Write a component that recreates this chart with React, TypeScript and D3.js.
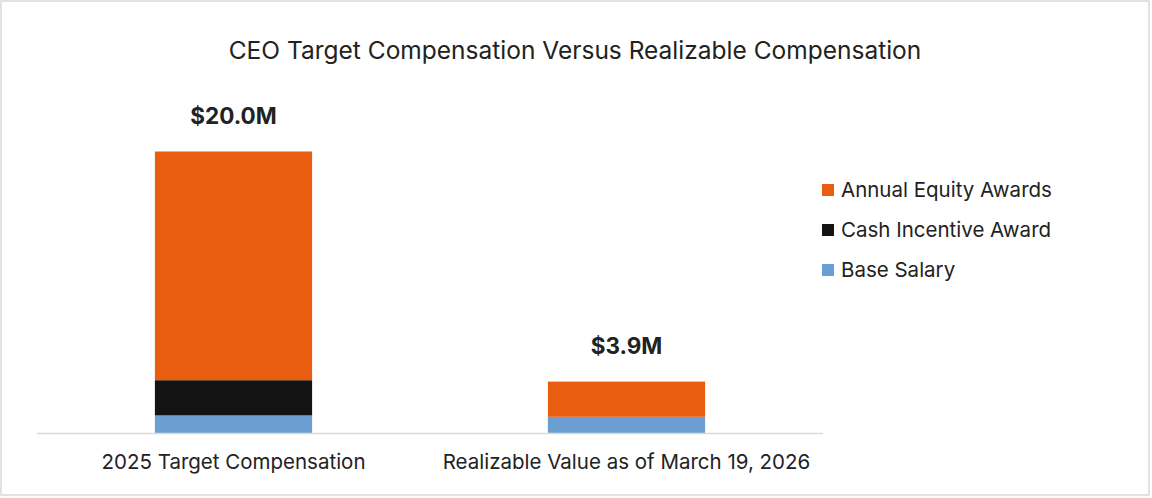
import * as d3 from "d3";
import { useRef, useEffect } from "react";

const categories = ["2025 Target Compensation", "Realizable Value as of March 19, 2026"];
const seriesNames = ["Base Salary", "Cash Incentive Award", "Annual Equity Awards"];
const baseSalary = [1.25, 1.15];
const cashIncentive = [2.5, 0];
const equityAwards = [16.25, 2.5];
const totalLabels = ["$20.0M", "$3.9M"];
const colors = ["#6b9fd1", "#141414", "#e85d10"];

export default function App() {
  const svgRef = useRef(null);

  useEffect(() => {
    document.body.style.margin = "0";
    const width = 1152;
    const height = 498;
    const font = "Inter, 'Open Sans', sans-serif";

    const svg = d3.select(svgRef.current).attr("width", width).attr("height", height);
    svg.selectAll("*").remove();

    svg
      .append("rect")
      .attr("x", 1)
      .attr("y", 1)
      .attr("width", 1148)
      .attr("height", 494)
      .attr("fill", "#fff")
      .attr("stroke", "#d9d9d9")
      .attr("stroke-width", 1.5);

    svg
      .append("text")
      .attr("x", 575)
      .attr("y", 59)
      .attr("text-anchor", "middle")
      .attr("font-family", font)
      .attr("font-size", 24.5)
      .attr("fill", "#222")
      .text("CEO Target Compensation Versus Realizable Compensation");

    const x = d3.scaleBand().domain(categories).range([37, 823]).paddingInner(0.6).paddingOuter(0.3);
    const y = d3.scaleLinear().domain([0, 20]).range([433, 151.5]);

    const rows = categories.map((c, i) => ({
      cat: c,
      "Base Salary": baseSalary[i],
      "Cash Incentive Award": cashIncentive[i],
      "Annual Equity Awards": equityAwards[i],
    }));
    const stack = d3.stack<any>().keys(seriesNames)(rows);

    const g = svg.append("g");
    stack.forEach((layer, li) => {
      g.selectAll(null)
        .data(layer)
        .enter()
        .append("rect")
        .attr("x", (d) => x(d.data.cat)!)
        .attr("width", x.bandwidth())
        .attr("y", (d) => y(d[1]))
        .attr("height", (d) => y(d[0]) - y(d[1]))
        .attr("fill", colors[li]);
    });

    // axis line
    svg
      .append("line")
      .attr("x1", 37)
      .attr("x2", 823)
      .attr("y1", 433.5)
      .attr("y2", 433.5)
      .attr("stroke", "#d9d9d9")
      .attr("stroke-width", 1.5);

    // totals
    const last = stack[stack.length - 1];
    svg
      .selectAll(null)
      .data(last)
      .enter()
      .append("text")
      .attr("x", (d) => x(d.data.cat)! + x.bandwidth() / 2)
      .attr("y", (d) => y(d[1]) - 28)
      .attr("text-anchor", "middle")
      .attr("font-family", font)
      .attr("font-size", 22.5)
      .attr("font-weight", "bold")
      .attr("fill", "#222")
      .text((_, i) => totalLabels[i]);

    // category labels
    svg
      .selectAll(null)
      .data(categories)
      .enter()
      .append("text")
      .attr("x", (d) => x(d)! + x.bandwidth() / 2)
      .attr("y", 469)
      .attr("text-anchor", "middle")
      .attr("font-family", font)
      .attr("font-size", 20.5)
      .attr("fill", "#222")
      .text((d) => d);

    // legend
    const legendItems = [...seriesNames].reverse();
    const legendColors = [...colors].reverse();
    const lg = svg
      .selectAll(null)
      .data(legendItems)
      .enter()
      .append("g")
      .attr("transform", (_, i) => `translate(822, ${190 + i * 40})`);
    lg.append("rect")
      .attr("x", 0)
      .attr("y", -6)
      .attr("width", 12)
      .attr("height", 12)
      .attr("fill", (_, i) => legendColors[i]);
    lg.append("text")
      .attr("x", 19)
      .attr("y", 7)
      .attr("font-family", font)
      .attr("font-size", 20.5)
      .attr("fill", "#222")
      .text((d) => d);
  }, []);

  return <svg ref={svgRef} style={{ display: "block" }} />;
}
